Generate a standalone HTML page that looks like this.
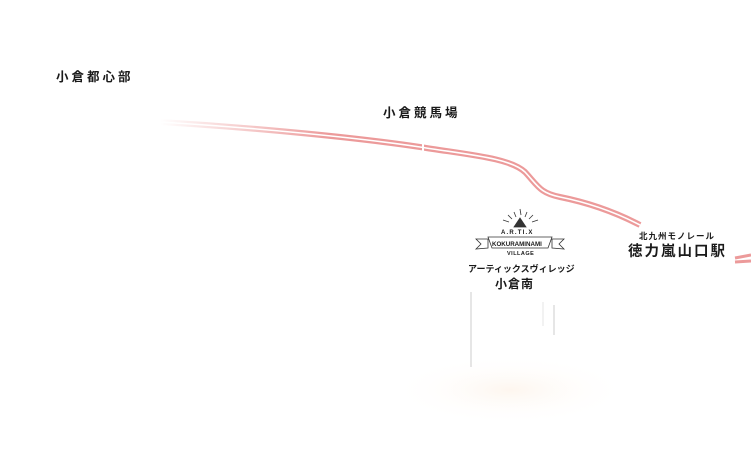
<!DOCTYPE html>
<html><head><meta charset="utf-8"><style>
html,body{margin:0;padding:0;background:#fff;}
svg{display:block}
text{font-family:"Liberation Sans","Noto Sans CJK JP",sans-serif;font-weight:bold;fill:#1a1a1a}
</style></head><body>
<svg width="751" height="471" viewBox="0 0 751 471" xmlns="http://www.w3.org/2000/svg">
<defs>
<linearGradient id="fade" x1="160" y1="0" x2="330" y2="0" gradientUnits="userSpaceOnUse">
<stop offset="0" stop-color="#ec9a9a" stop-opacity="0"/><stop offset="1" stop-color="#ec9a9a" stop-opacity="1"/>
</linearGradient>
<radialGradient id="glow" cx="0.5" cy="0.5" r="0.5">
<stop offset="0" stop-color="#fdf0e4" stop-opacity="0.6"/><stop offset="1" stop-color="#fff" stop-opacity="0"/>
</radialGradient>
</defs>
<ellipse cx="510" cy="390" rx="120" ry="35" fill="url(#glow)"/>
<path d="M160,122 C260,128 360,138 420,147 C470,155 510,158 525,172 C538,186 540,193 560,197 C590,203 615,212 640,225" fill="none" stroke="url(#fade)" stroke-width="6"/>
<path d="M160,122 C260,128 360,138 420,147 C470,155 510,158 525,172 C538,186 540,193 560,197 C590,203 615,212 640,225" fill="none" stroke="#fff" stroke-width="1.6"/>
<line x1="423" y1="143" x2="423" y2="152" stroke="#fff" stroke-width="2"/>
<path d="M735,258 L751,255 M735,262 L751,261" stroke="#ec9a9a" stroke-width="3"/>
<g stroke="#d4d4d4" stroke-width="1.2">
<line x1="471" y1="292" x2="471" y2="367"/>
<line x1="554" y1="305" x2="554" y2="335"/>
<line x1="543" y1="302" x2="543" y2="326" stroke="#e8e8e8"/>
</g>
<text x="56" y="81" font-size="12.5" letter-spacing="3">小倉都心部</text>
<text x="383" y="117" font-size="12.5" letter-spacing="3">小倉競馬場</text>
<text x="639" y="239" font-size="8.5" letter-spacing="1">北九州モノレール</text>
<text x="628" y="256" font-size="14.5" letter-spacing="2">徳力嵐山口駅</text>
<text x="468" y="272" font-size="9">アーティックスヴィレッジ</text>
<text x="495" y="288" font-size="12" letter-spacing="1">小倉南</text>
<g stroke="#333" stroke-width="0.8" fill="none">
<line x1="514" y1="212" x2="516" y2="217"/><line x1="520" y1="209" x2="521" y2="215"/>
<line x1="527" y1="212" x2="525" y2="217"/><line x1="533" y1="215" x2="529" y2="219"/>
<line x1="508" y1="215" x2="512" y2="219"/><line x1="503" y1="220" x2="509" y2="222"/>
<line x1="538" y1="220" x2="532" y2="222"/>
<path d="M514,227 L520,218 L526,227 Z" fill="#333"/>
<path d="M488,237 L552,237 L548,248 L492,248 Z" fill="#fff"/>
<path d="M476,239 L488,239 L488,248 L476,249 L481,244 Z"/>
<path d="M552,239 L564,239 L559,244 L564,249 L552,248 Z"/>
</g>
<text x="501" y="234" font-size="6" letter-spacing="1.2">A.R.TI.X</text>
<text x="492" y="246" font-size="6.2" font-family="Liberation Mono">KOKURAMINAMI</text>
<text x="507" y="255" font-size="5.5" letter-spacing="0.5">VILLAGE</text>
</svg>
</body></html>
